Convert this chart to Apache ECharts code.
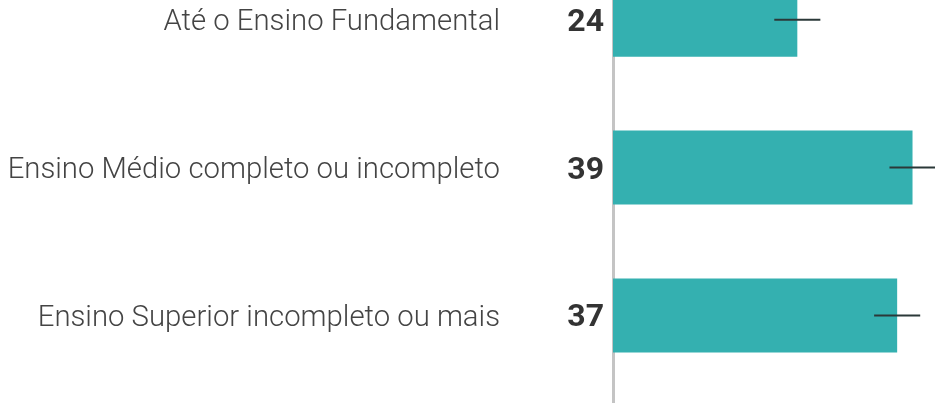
<!DOCTYPE html>
<html>
<head>
<meta charset="utf-8">
<script src="https://cdn.jsdelivr.net/npm/echarts@6/dist/echarts.min.js"></script>
<style>
  html, body { margin: 0; padding: 0; background: #fff; }
  #chart { width: 935px; height: 403px; }
</style>
</head>
<body>
<div id="chart"></div>
<script>
// Escolaridade: percentual com margem de erro
const categories = ['Até o Ensino Fundamental', 'Ensino Médio completo ou incompleto', 'Ensino Superior incompleto ou mais'];
const values = [24, 39, 37];
const errorLow = [21, 36, 34];
const errorHigh = [27, 42, 40];

const chart = echarts.init(document.getElementById('chart'));

const errorData = categories.map((c, i) => [errorLow[i], errorHigh[i], i]);

chart.setOption({
  animation: false,
  grid: [
    { left: 613, top: -54.1, width: 345.6, height: 443.4, outerBoundsMode: 'none', containLabel: false },
    { left: 613, top: -20, width: 1, height: 460, outerBoundsMode: 'none', containLabel: false }
  ],
  xAxis: [
    { type: 'value', gridIndex: 0, min: 0, max: 45, show: false },
    { type: 'value', gridIndex: 1, show: false }
  ],
  yAxis: [
    {
      type: 'category', gridIndex: 0, data: categories, inverse: true,
      axisLine: { show: false }, axisTick: { show: false }, splitLine: { show: false },
      axisLabel: {
        margin: 113,
        formatter: v => '{t|' + v + '}',
        rich: {
          t: {
            fontFamily: 'Roboto', fontWeight: 300, fontSize: 29.3, color: '#444',
            padding: [6, 0, 0, 0]
          }
        }
      }
    },
    {
      type: 'value', gridIndex: 1,
      axisLine: { show: true, lineStyle: { color: '#c4c4c4', width: 3 } },
      axisTick: { show: false }, axisLabel: { show: false }, splitLine: { show: false }
    }
  ],
  series: [
    {
      type: 'bar', xAxisIndex: 0, yAxisIndex: 0, data: values, barWidth: 74, z: 2,
      itemStyle: { color: '#34b0b0' },
      label: {
        show: true, position: 'left', distance: 9, formatter: '{c}', offset: [0, 3],
        fontFamily: 'Roboto', fontWeight: 'bold', fontSize: 32, color: '#333'
      }
    },
    {
      type: 'custom', xAxisIndex: 0, yAxisIndex: 0, data: errorData, z: 3, clip: false,
      encode: { x: [0, 1], y: 2 },
      renderItem: function (params, api) {
        const idx = api.value(2);
        const a = api.coord([api.value(0), idx]);
        const b = api.coord([api.value(1), idx]);
        return {
          type: 'line',
          shape: { x1: a[0], y1: a[1], x2: b[0], y2: b[1] },
          style: { stroke: '#2b3838', lineWidth: 2 }
        };
      }
    }
  ]
});
</script>
</body>
</html>
